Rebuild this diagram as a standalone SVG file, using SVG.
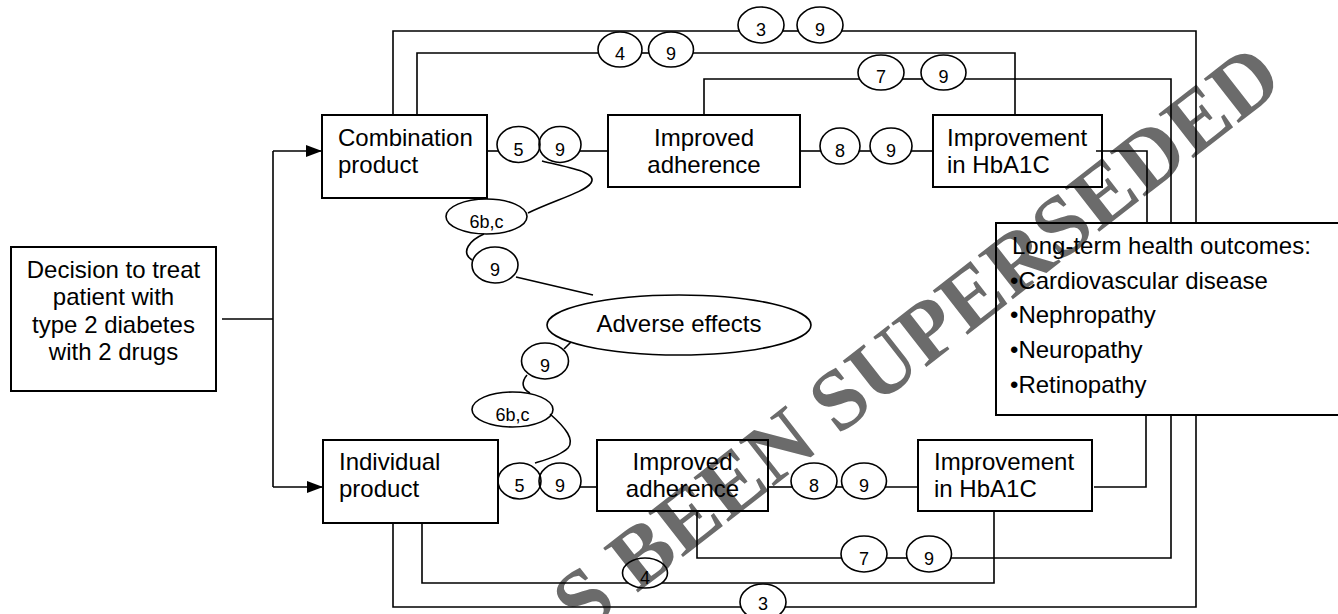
<svg xmlns="http://www.w3.org/2000/svg" width="1338" height="614" viewBox="0 0 1338 614">
<style>
.box{fill:none;stroke:#000;stroke-width:2}
.ov{fill:none;stroke:#000;stroke-width:1.6}
.ln{fill:none;stroke:#000;stroke-width:1.6}
.t{font-family:"Liberation Sans",Arial,sans-serif;font-size:24px;fill:#000}
.c{font-family:"Liberation Sans",Arial,sans-serif;font-size:18px;fill:#000;text-anchor:middle}
.m{text-anchor:middle}
.wm{font-family:"Liberation Serif","Times New Roman",serif;font-weight:bold;font-size:86px;fill:#6b6b6b}
</style>
<defs>
<marker id="arr" markerUnits="userSpaceOnUse" markerWidth="16" markerHeight="12" refX="16" refY="6" orient="auto">
<path d="M0,0 L16,6 L0,12 z" fill="#000"/>
</marker>
</defs>
<rect width="1338" height="614" fill="#fff"/>
<text class="wm" transform="translate(582 636) rotate(-38)">S BEEN SUPERSEDED</text>

<g id="connectors" class="ln">
<path d="M222 319 H273"/>
<path d="M273 151 V487"/>
<path d="M273 151 H322" marker-end="url(#arr)"/>
<path d="M273 487 H323" marker-end="url(#arr)"/>
<path d="M393 115 V31 H739"/>
<path d="M783 31 H798"/>
<path d="M842 31 H1196 V223"/>
<path d="M417 115 V53 H598.5"/>
<path d="M641.5 53 H649"/>
<path d="M693 53 H1015 V115"/>
<path d="M704 115 V79 H860"/>
<path d="M902 79 H923"/>
<path d="M964 79 H1171 V223"/>
<path d="M487 151 H499"/>
<path d="M580 151 H608"/>
<path d="M800 151 H821"/>
<path d="M859 151 H871"/>
<path d="M911 151 H933"/>
<path d="M1096 151 H1147 V223"/>
<path d="M542 161 C570 168 598 172 591 183 C585 192 555 200 528 213"/>
<path d="M484 234 C470 240 460 252 472 260"/>
<path d="M516 277 L593 295"/>
<path d="M571 342 L564 349"/>
<path d="M527 375 C521 382 522 389 530 393"/>
<path d="M550 414 C566 428 575 440 568 448 C560 456 545 460 535 463"/>
<path d="M580 487 H597"/>
<path d="M768 487 H792.5"/>
<path d="M835.5 487 H843"/>
<path d="M885 487 H918"/>
<path d="M1094 487 H1146 V415"/>
<path d="M697 511 V558 H841.6"/>
<path d="M886.4 558 H907"/>
<path d="M951 558 H1171 V415"/>
<path d="M422 523 V583 H628"/>
<path d="M662 583 H994 V511"/>
<path d="M393 523 V607 H741"/>
<path d="M785 607 H1196 V415"/>
</g>

<g id="decision">
<rect class="box" x="11" y="247" width="205" height="144"/>
<text class="t m" x="113.5" y="278">Decision to treat</text>
<text class="t m" x="113.5" y="305">patient with</text>
<text class="t m" x="113.5" y="333">type 2 diabetes</text>
<text class="t m" x="113.5" y="360">with 2 drugs</text>
</g>
<g id="combination">
<rect class="box" x="322" y="115" width="165" height="83"/>
<text class="t" x="338" y="146">Combination</text>
<text class="t" x="338" y="173">product</text>
</g>
<g id="adherence-top">
<rect class="box" x="608" y="115" width="192" height="72"/>
<text class="t m" x="704" y="146">Improved</text>
<text class="t m" x="704" y="173">adherence</text>
</g>
<g id="hba1c-top">
<rect class="box" x="933" y="115" width="169" height="72"/>
<text class="t" x="947" y="146">Improvement</text>
<text class="t" x="947" y="173">in HbA1C</text>
</g>
<g id="outcomes">
<rect class="box" x="996" y="223" width="345" height="192"/>
<text class="t" x="1012" y="254">Long-term health outcomes:</text>
<text class="t" x="1010" y="289">•Cardiovascular disease</text>
<text class="t" x="1010" y="323">•Nephropathy</text>
<text class="t" x="1010" y="358">•Neuropathy</text>
<text class="t" x="1010" y="393">•Retinopathy</text>
</g>
<g id="adverse">
<ellipse class="ov" cx="679" cy="325" rx="132" ry="30"/>
<text class="t m" x="679" y="332">Adverse effects</text>
</g>
<g id="individual">
<rect class="box" x="323" y="440" width="175" height="83"/>
<text class="t" x="339" y="470">Individual</text>
<text class="t" x="339" y="497">product</text>
</g>
<g id="adherence-bottom">
<rect class="box" x="597" y="440" width="171" height="71"/>
<text class="t m" x="682.5" y="470">Improved</text>
<text class="t m" x="682.5" y="497">adherence</text>
</g>
<g id="hba1c-bottom">
<rect class="box" x="918" y="440" width="174" height="71"/>
<text class="t" x="934" y="470">Improvement</text>
<text class="t" x="934" y="497">in HbA1C</text>
</g>

<g id="labels">
<ellipse class="ov" cx="761" cy="25" rx="23" ry="18"/><text class="c" x="761" y="36">3</text>
<ellipse class="ov" cx="820" cy="25" rx="23" ry="18"/><text class="c" x="820" y="36">9</text>
<ellipse class="ov" cx="620" cy="49.5" rx="22" ry="17.5"/><text class="c" x="620" y="60">4</text>
<ellipse class="ov" cx="671" cy="49.5" rx="22.5" ry="17.5"/><text class="c" x="671" y="60">9</text>
<ellipse class="ov" cx="881" cy="72.5" rx="23" ry="17.5"/><text class="c" x="881" y="83">7</text>
<ellipse class="ov" cx="943.5" cy="72.5" rx="22.5" ry="17.5"/><text class="c" x="943.5" y="83">9</text>
<ellipse class="ov" cx="518.5" cy="144.5" rx="21.5" ry="18"/><text class="c" x="518.5" y="155.5">5</text>
<ellipse class="ov" cx="560" cy="144.5" rx="21" ry="18"/><text class="c" x="560" y="155.5">9</text>
<ellipse class="ov" cx="840" cy="146" rx="20" ry="18"/><text class="c" x="840" y="157">8</text>
<ellipse class="ov" cx="891" cy="146" rx="21" ry="18"/><text class="c" x="891" y="157">9</text>
<ellipse class="ov" cx="486.5" cy="216.5" rx="40.5" ry="17.5"/><text class="c" x="486.5" y="228">6b,c</text>
<ellipse class="ov" cx="495" cy="265" rx="23" ry="18"/><text class="c" x="495" y="276">9</text>
<ellipse class="ov" cx="545" cy="361" rx="23.5" ry="18"/><text class="c" x="545" y="372">9</text>
<ellipse class="ov" cx="512.5" cy="409.5" rx="40.5" ry="17.5"/><text class="c" x="512.5" y="421">6b,c</text>
<ellipse class="ov" cx="519.5" cy="481" rx="21.5" ry="18"/><text class="c" x="519.5" y="492">5</text>
<ellipse class="ov" cx="560" cy="481" rx="21" ry="18"/><text class="c" x="560" y="492">9</text>
<ellipse class="ov" cx="814" cy="481" rx="23" ry="18"/><text class="c" x="814" y="492">8</text>
<ellipse class="ov" cx="864" cy="481" rx="22.5" ry="18"/><text class="c" x="864" y="492">9</text>
<ellipse class="ov" cx="864" cy="554" rx="23" ry="18"/><text class="c" x="864" y="565">7</text>
<ellipse class="ov" cx="929" cy="554" rx="22.5" ry="18"/><text class="c" x="929" y="565">9</text>
<ellipse class="ov" cx="645" cy="573" rx="22.5" ry="15"/><text class="c" x="645" y="584">4</text>
<ellipse class="ov" cx="763" cy="602" rx="23" ry="18"/><text class="c" x="763" y="610">3</text>
</g>
</svg>
